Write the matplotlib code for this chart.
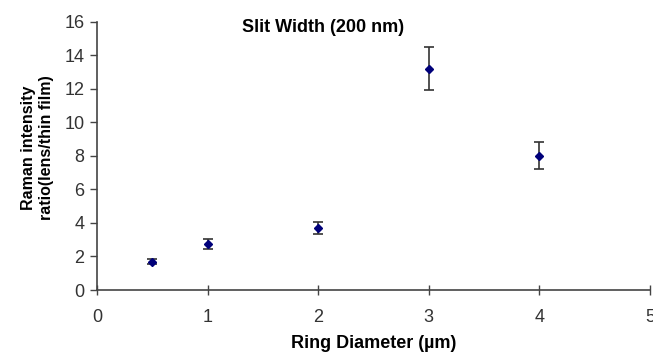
import matplotlib
matplotlib.use("Agg")
import matplotlib.pyplot as plt

plt.rcParams['font.family'] = ['Liberation Sans', 'DejaVu Sans']

# Ring diameter (µm) vs. Raman intensity ratio with standard-deviation error bars
ring_diameter = [0.5, 1, 2, 3, 4]
intensity_ratio = [1.7, 2.75, 3.7, 13.2, 8.0]
ratio_error = [0.15, 0.3, 0.35, 1.3, 0.8]

x_ticks = [0, 1, 2, 3, 4, 5]
y_ticks = [0, 2, 4, 6, 8, 10, 12, 14, 16]

fig = plt.figure(figsize=(6.53, 3.6), dpi=100)
ax = fig.add_axes([0.1485, 0.1944, 0.847, 0.7453])

ax.errorbar(ring_diameter, intensity_ratio, yerr=ratio_error,
            fmt='D', color='#00007a', markersize=4.5,
            ecolor='#333333', elinewidth=1.2, capsize=3.5, capthick=1.2)

ax.set_xlim(0, 5)
ax.set_ylim(0, 16)
ax.set_xticks(x_ticks)
ax.set_yticks(y_ticks)

for side in ('top', 'right'):
    ax.spines[side].set_visible(False)
for side in ('left', 'bottom'):
    ax.spines[side].set_color('#444444')
    ax.spines[side].set_linewidth(1.2)

ax.tick_params(axis='y', direction='out', length=5, width=1, colors='#444444',
               labelsize=13, labelcolor='#333333', pad=4)
ax.tick_params(axis='x', direction='inout', length=7, width=1, colors='#444444',
               labelsize=13, labelcolor='#333333', pad=10)

ax.set_xlabel('Ring Diameter (µm)', fontsize=13, fontweight='bold', labelpad=7)
ax.set_ylabel('Raman intensity\nratio(lens/thin film)', fontsize=11.5,
              fontweight='bold', linespacing=1.25)
ax.yaxis.set_label_coords(-0.078, 0.53)

ax.text(0.409, 0.98, 'Slit Width (200 nm)', transform=ax.transAxes,
        ha='center', va='center', fontsize=13, fontweight='bold')

fig.savefig('out.png', dpi=100)
